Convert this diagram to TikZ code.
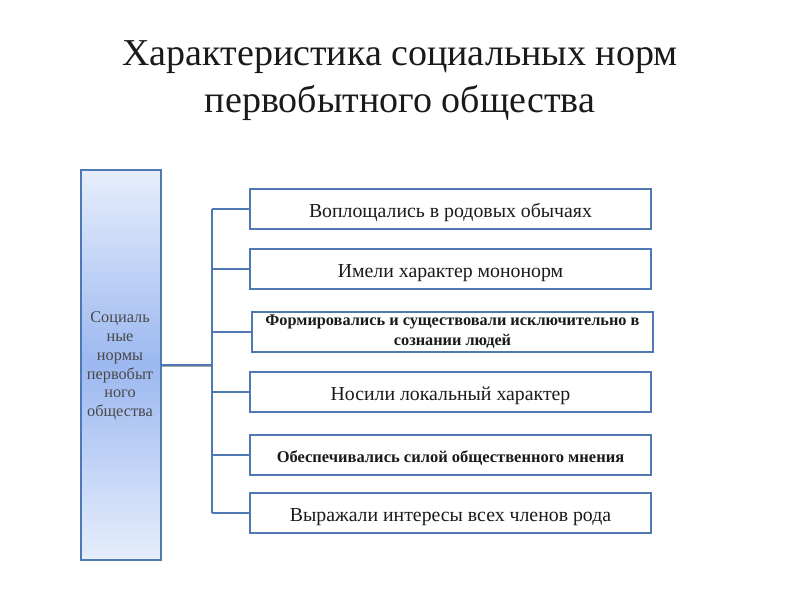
\documentclass[tikz,border=0pt]{standalone}
\usepackage{fontspec}
\setmainfont{Liberation Serif}
\definecolor{edge}{HTML}{4F79B5}
\definecolor{lightb}{HTML}{E6EEFC}
\definecolor{midb}{HTML}{9CB8F0}
\definecolor{txt}{HTML}{1A1A1A}
\tikzset{
  item/.style={draw=edge, line width=1.5pt, fill=white, minimum width=401pt, minimum height=40pt, inner sep=2pt, align=center, text=txt, text height=20pt, text depth=4pt, font=\fontsize{19.8}{22}\selectfont},
  itembold/.style={item, text height=18pt, text depth=4pt, font=\bfseries\fontsize{16.5}{19}\selectfont},
  titletext/.style={font=\fontsize{38}{45}\selectfont, text=txt, anchor=base},
  conn/.style={draw=edge, line width=1.5pt},
}
\begin{document}
\begin{tikzpicture}[x=1pt,y=-1pt]
\useasboundingbox (0,0) rectangle (800,600);
\node[titletext] (title1) at (400,65) {Характеристика социальных норм};
\node[titletext] (title2) at (400,112) {первобытного общества};
% left box
\fill[gray!60] (82,171) rectangle (162,561);
\node[draw=edge, line width=1.5pt, minimum width=80pt, minimum height=390pt, top color=lightb, bottom color=lightb, middle color=midb, anchor=north west, inner sep=0pt] (main) at (80,169) {};
\node[align=center, text=txt!80, font=\fontsize{16.3}{18.8}\selectfont] (maintext) at (120,366) {Социаль\\ные\\нормы\\первобыт\\ного\\общества};
% right boxes
\node[item] (b1) at (450.5,209) {Воплощались в родовых обычаях};
\node[item] (b2) at (450.5,269) {Имели характер мононорм};
\node[item, text height=, text depth=, font=\bfseries\fontsize{16.3}{20}\selectfont] (b3) at (452.5,332) {Формировались и существовали исключительно в\\сознании людей};
\node[item] (b4) at (450.5,392) {Носили локальный характер};
\node[itembold] (b5) at (450.5,455) {Обеспечивались силой общественного мнения};
\node[item] (b6) at (450.5,513) {Выражали интересы всех членов рода};
% connectors
\coordinate (t1) at (212,209);
\coordinate (t6) at (212,513);
\coordinate (tm) at (212,365);
\draw[gray!70, line width=1.5pt] ([yshift=-1.5pt]main.east |- tm) -- ([yshift=-1.5pt]tm);
\draw[conn] (main.east |- tm) -- (tm);
\draw[conn] (t1) -- (t6);
\foreach \b in {b1,b2,b3,b4,b5,b6}{
  \draw[conn] (t1 |- \b.west) -- (\b.west);
}
\end{tikzpicture}
\end{document}
